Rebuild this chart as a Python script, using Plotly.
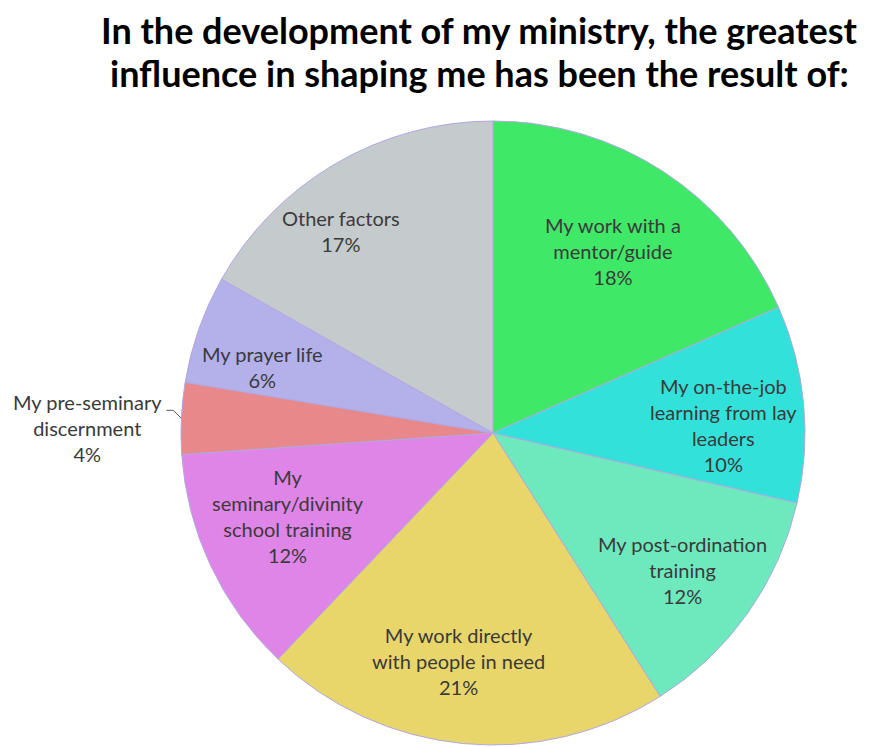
import math
import plotly.graph_objects as go

labels = [
    "My work with a mentor/guide",
    "My on-the-job learning from lay leaders",
    "My post-ordination training",
    "My work directly with people in need",
    "My seminary/divinity school training",
    "My pre-seminary discernment",
    "My prayer life",
    "Other factors",
]
display_labels = [
    "My work with a<br>mentor/guide",
    "My on-the-job<br>learning from lay<br>leaders",
    "My post-ordination<br>training",
    "My work directly<br>with people in need",
    "My<br>seminary/divinity<br>school training",
    "My pre-seminary<br>discernment",
    "My prayer life",
    "Other factors",
]
values = [18.4, 10.2, 12.4, 21.1, 11.8, 3.7, 5.6, 16.8]
colors = ["#40E868", "#32E2DA", "#6EE9BD", "#E8D66B", "#E085E8", "#E8888A", "#B3B0EA", "#C5CACD"]

# label placement (radius fraction, angle nudge in degrees)
label_pos = [(0.70, 0.2), (0.74, 3.4), (0.75, 0.5), (0.74, 3.1), (0.71, 3.2), (1.30, -2.0), (0.77, -3.4), (0.81, -6.8)]

title_lines = [
    "In the development of my ministry, the greatest",
    "influence in shaping me has been the result of:",
]

fig = go.Figure(go.Pie(
    labels=labels,
    values=values,
    sort=False,
    direction="clockwise",
    rotation=0,
    marker=dict(colors=colors, line=dict(color="#B0A8E2", width=1)),
    textinfo="none",
    hoverinfo="label+percent",
    showlegend=False,
    domain=dict(x=[0, 1], y=[0, 1]),
))

total = sum(values)
annotations = []
cum = 0
for i, v in enumerate(values):
    mid = (cum + v / 2) / total * 360
    cum += v
    rf, nudge = label_pos[i]
    th = math.radians(mid + nudge)
    x = 0.5 + 0.5 * rf * math.sin(th)
    y = 0.5 + 0.5 * rf * math.cos(th)
    pct = round(v / total * 100)
    annotations.append(dict(
        x=x, y=y, xref="paper", yref="paper",
        text=f"{display_labels[i]}<br>{pct}%",
        showarrow=False, align="center",
        font=dict(family="Lato, Calibri, sans-serif", size=20, color="#3A3A3A"),
        xanchor="center", yanchor="middle",
    ))

# title as two lines
for j, line in enumerate(title_lines):
    annotations.append(dict(
        x=(479 - 181) / 624, y=(745 - 30 - 43 * j) / 624, xref="paper", yref="paper",
        text=f"<b>{line}</b>", showarrow=False,
        font=dict(family="Lato, Calibri, sans-serif", size=36, color="#000000"),
        xanchor="center", yanchor="middle",
    ))

# leader line for the small outside slice
cum_before = sum(values[:5])
edge_ang = math.radians((cum_before + values[5] * 0.5) / total * 360)
ex = 0.5 + 0.5 * math.sin(edge_ang)
ey = 0.5 + 0.5 * math.cos(edge_ang)
elbow_x = ex - 8 / 624
elbow_y = ey + 8 / 624
end_x = elbow_x - 7 / 624
shapes = [dict(
    type="path", xref="paper", yref="paper",
    path=f"M {ex} {ey} L {elbow_x} {elbow_y} L {end_x} {elbow_y}",
    line=dict(color="#595959", width=1),
)]

fig.update_layout(
    width=870, height=747,
    margin=dict(l=181, r=65, t=121, b=2),
    paper_bgcolor="white",
    plot_bgcolor="white",
    annotations=annotations,
    shapes=shapes,
)

fig.write_html("out.html")
